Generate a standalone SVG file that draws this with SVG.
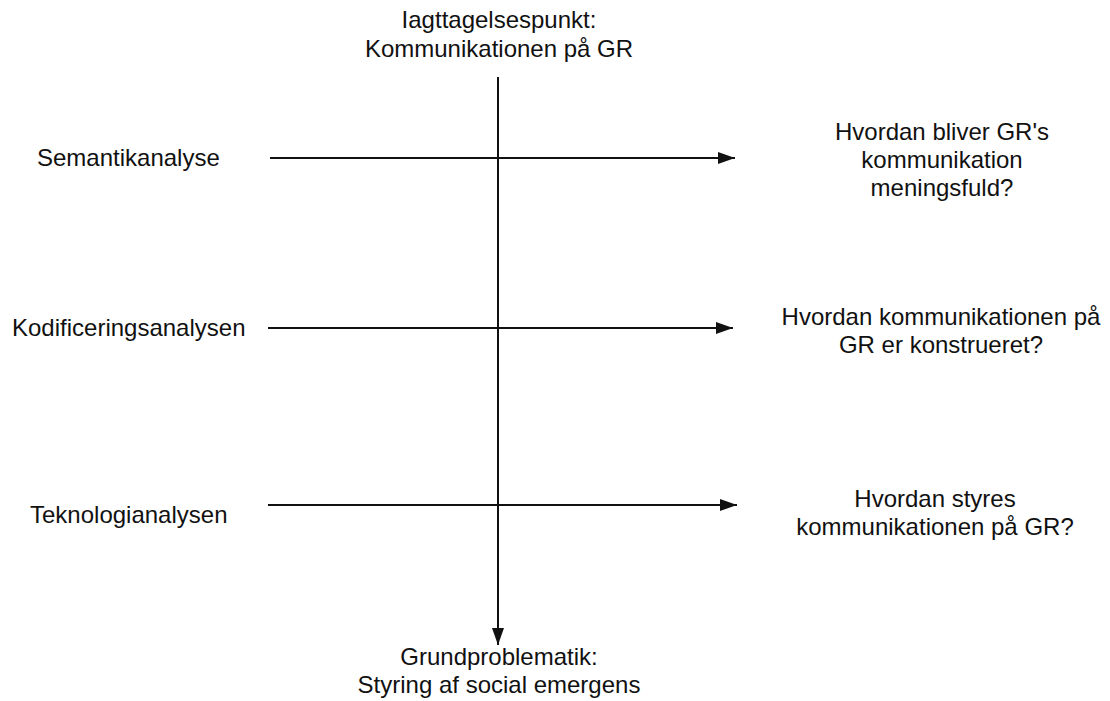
<svg xmlns="http://www.w3.org/2000/svg" width="1110" height="701" viewBox="0 0 1110 701">
<style>
text{font-family:"Liberation Sans",Arial,sans-serif;font-size:24px;fill:#111}
.c{text-anchor:middle}
.ln{stroke:#111;stroke-width:2;fill:none}
</style>
<defs>
<marker id="ah" markerUnits="userSpaceOnUse" markerWidth="18" markerHeight="14" refX="17" refY="7" orient="auto">
<path d="M0,1 L17,7 L0,13 Z" fill="#111"/>
</marker>
</defs>
<rect width="1110" height="701" fill="#fff"/>
<g id="connectors">
<line class="ln" x1="498" y1="77" x2="498" y2="645" marker-end="url(#ah)"/>
<line class="ln" x1="270" y1="158" x2="735" y2="158" marker-end="url(#ah)"/>
<line class="ln" x1="268" y1="328" x2="733" y2="328" marker-end="url(#ah)"/>
<line class="ln" x1="268" y1="505" x2="737" y2="505" marker-end="url(#ah)"/>
</g>
<g id="top"><text class="c" x="499" y="28">Iagttagelsespunkt:</text><text class="c" x="499" y="57">Kommunikationen på GR</text></g>
<g id="bottom"><text class="c" x="499" y="665">Grundproblematik:</text><text class="c" x="499" y="693">Styring af social emergens</text></g>
<g id="semantik"><text x="37" y="166">Semantikanalyse</text></g>
<g id="kodificering"><text x="12" y="336">Kodificeringsanalysen</text></g>
<g id="teknologi"><text x="30" y="523">Teknologianalysen</text></g>
<g id="q1"><text class="c" x="942" y="140">Hvordan bliver GR's</text><text class="c" x="942" y="168">kommunikation</text><text class="c" x="942" y="196">meningsfuld?</text></g>
<g id="q2"><text class="c" x="941" y="325">Hvordan kommunikationen på</text><text class="c" x="941" y="353">GR er konstrueret?</text></g>
<g id="q3"><text class="c" x="935" y="507">Hvordan styres</text><text class="c" x="935" y="535">kommunikationen på GR?</text></g>
</svg>
